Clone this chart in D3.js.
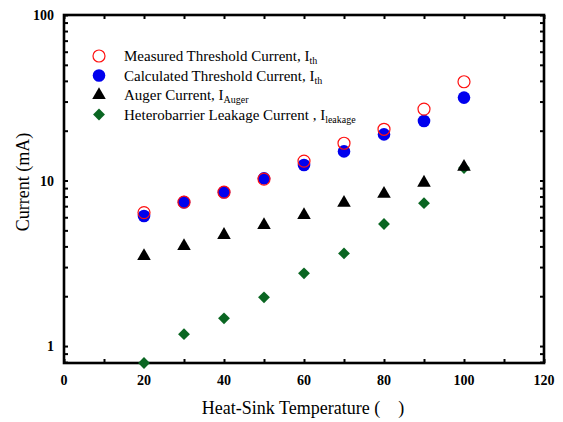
<!DOCTYPE html>
<html>
<head>
<meta charset="utf-8">
<script src="https://cdn.jsdelivr.net/npm/d3@7"></script>
<style>
  body { margin: 0; background: #fff; }
  svg text { font-family: "Liberation Serif", "DejaVu Serif", "Times New Roman", Times, serif; }
</style>
</head>
<body>
<svg id="chart" width="563" height="422"></svg>
<script>
const temps = [20, 30, 40, 50, 60, 70, 80, 90, 100];
const measured = [6.4, 7.4, 8.5, 10.2, 13.1, 16.8, 20.4, 27, 39.5];
const calculated = [6.1, 7.4, 8.5, 10.3, 12.4, 15.0, 19.0, 22.9, 31.7];
const auger = [3.5, 4.02, 4.69, 5.38, 6.19, 7.34, 8.3, 9.7, 12.1];
const leakage = [0.79, 1.18, 1.47, 1.97, 2.75, 3.63, 5.46, 7.3, 11.9];
const xTicks = [0, 20, 40, 60, 80, 100, 120];
const yTicks = [1, 10, 100];

const serif = "Liberation Serif, DejaVu Serif, serif";
const svg = d3.select("#chart");
const margin = {left: 64, right: 19, top: 15, bottom: 59};
const W = 563, H = 422;

const x = d3.scaleLinear().domain([0, 120]).range([margin.left, W - margin.right]);
const y = d3.scaleLog().domain([0.79, 100]).range([H - margin.bottom, margin.top]);

// minor ticks for log axis
const yMinor = [];
for (let d = 1; d <= 10; d *= 10)
  for (let k = 1; k <= 9; k++) yMinor.push(d * k);
yMinor.push(0.8, 0.9, 100);

const g = svg.append("g");

// ticks, inward on all four sides
const tickLen = 4;
g.append("g")
  .attr("transform", `translate(0,${y.range()[0]})`)
  .call(d3.axisBottom(x).tickValues(d3.range(0, 121, 10)).tickSize(-tickLen).tickFormat(""))
  .call(a => a.select(".domain").remove());
g.append("g")
  .attr("transform", `translate(0,${y.range()[1]})`)
  .call(d3.axisTop(x).tickValues(d3.range(0, 121, 10)).tickSize(-tickLen).tickFormat(""))
  .call(a => a.select(".domain").remove());
g.append("g")
  .attr("transform", `translate(${x.range()[0]},0)`)
  .call(d3.axisLeft(y).tickValues(yMinor).tickSize(-tickLen).tickFormat(""))
  .call(a => a.select(".domain").remove());
g.append("g")
  .attr("transform", `translate(${x.range()[1]},0)`)
  .call(d3.axisRight(y).tickValues(yMinor).tickSize(-tickLen).tickFormat(""))
  .call(a => a.select(".domain").remove());
g.selectAll(".tick line").attr("stroke", "#000").attr("stroke-width", 2);

// tick labels
g.selectAll(".xl").data(xTicks).enter().append("text")
  .attr("x", d => x(d)).attr("y", y.range()[0] + 22)
  .attr("text-anchor", "middle").attr("font-size", 14).attr("font-weight", "bold")
  .style("font-family", serif)
  .text(d => d);
g.selectAll(".yl").data(yTicks).enter().append("text")
  .attr("x", x.range()[0] - 10).attr("y", d => y(d) + 5)
  .attr("text-anchor", "end").attr("font-size", 14).attr("font-weight", "bold")
  .style("font-family", serif)
  .text(d => d);

// frame
g.append("rect")
  .attr("x", x.range()[0]).attr("y", y.range()[1])
  .attr("width", x.range()[1] - x.range()[0]).attr("height", y.range()[0] - y.range()[1])
  .attr("fill", "none").attr("stroke", "#000").attr("stroke-width", 2.6);

// axis titles
svg.append("text")
  .attr("x", 303).attr("y", 414).attr("text-anchor", "middle").attr("font-size", 18)
  .style("font-family", serif)
  .text("Heat-Sink Temperature (\u00a0\u00a0\u00a0\u00a0)");
svg.append("text")
  .attr("transform", "translate(29,182) rotate(-90)")
  .attr("text-anchor", "middle").attr("font-size", 18)
  .style("font-family", serif)
  .text("Current (mA)");

const green = "#0a6622";
const diamond = d3.symbol().type(d3.symbolSquare).size(70);
const tri = d3.symbol().type(d3.symbolTriangle).size(80);

const pts = svg.append("g");
pts.selectAll(".lk").data(temps).enter().append("path")
  .attr("d", diamond).attr("fill", green)
  .attr("transform", (d, i) => `translate(${x(d)},${y(leakage[i])}) rotate(45)`);
pts.selectAll(".au").data(temps).enter().append("path")
  .attr("d", tri).attr("fill", "#000")
  .attr("transform", (d, i) => `translate(${x(d)},${y(auger[i])})`);
pts.selectAll(".ca").data(temps).enter().append("circle")
  .attr("cx", d => x(d)).attr("cy", (d, i) => y(calculated[i])).attr("r", 6.3)
  .attr("fill", "#0000ee");
pts.selectAll(".me").data(temps).enter().append("circle")
  .attr("cx", d => x(d)).attr("cy", (d, i) => y(measured[i])).attr("r", 6)
  .attr("fill", "none").attr("stroke", "#ff1010").attr("stroke-width", 1.2);

// legend
const lx = 99, ly = 56, dy = 19.5;
const leg = svg.append("g");
leg.append("circle").attr("cx", lx).attr("cy", ly).attr("r", 6)
  .attr("fill", "none").attr("stroke", "#ff1010").attr("stroke-width", 1.2);
leg.append("circle").attr("cx", lx).attr("cy", ly + dy).attr("r", 6.3).attr("fill", "#0000ee");
leg.append("path").attr("d", tri).attr("fill", "#000")
  .attr("transform", `translate(${lx},${ly + 2 * dy})`);
leg.append("path").attr("d", diamond).attr("fill", green)
  .attr("transform", `translate(${lx},${ly + 3 * dy}) rotate(45)`);

const labels = [
  ["Measured Threshold Current, I", "th"],
  ["Calculated Threshold Current, I", "th"],
  ["Auger Current, I", "Auger"],
  ["Heterobarrier Leakage Current , I", "leakage"]
];
labels.forEach((l, i) => {
  const t = leg.append("text").attr("x", 124).attr("y", ly + i * dy + 5).attr("font-size", 15)
    .style("font-family", serif);
  t.append("tspan").text(l[0]);
  t.append("tspan").attr("font-size", 10).attr("dy", 3).text(l[1]);
});
</script>
</body>
</html>
